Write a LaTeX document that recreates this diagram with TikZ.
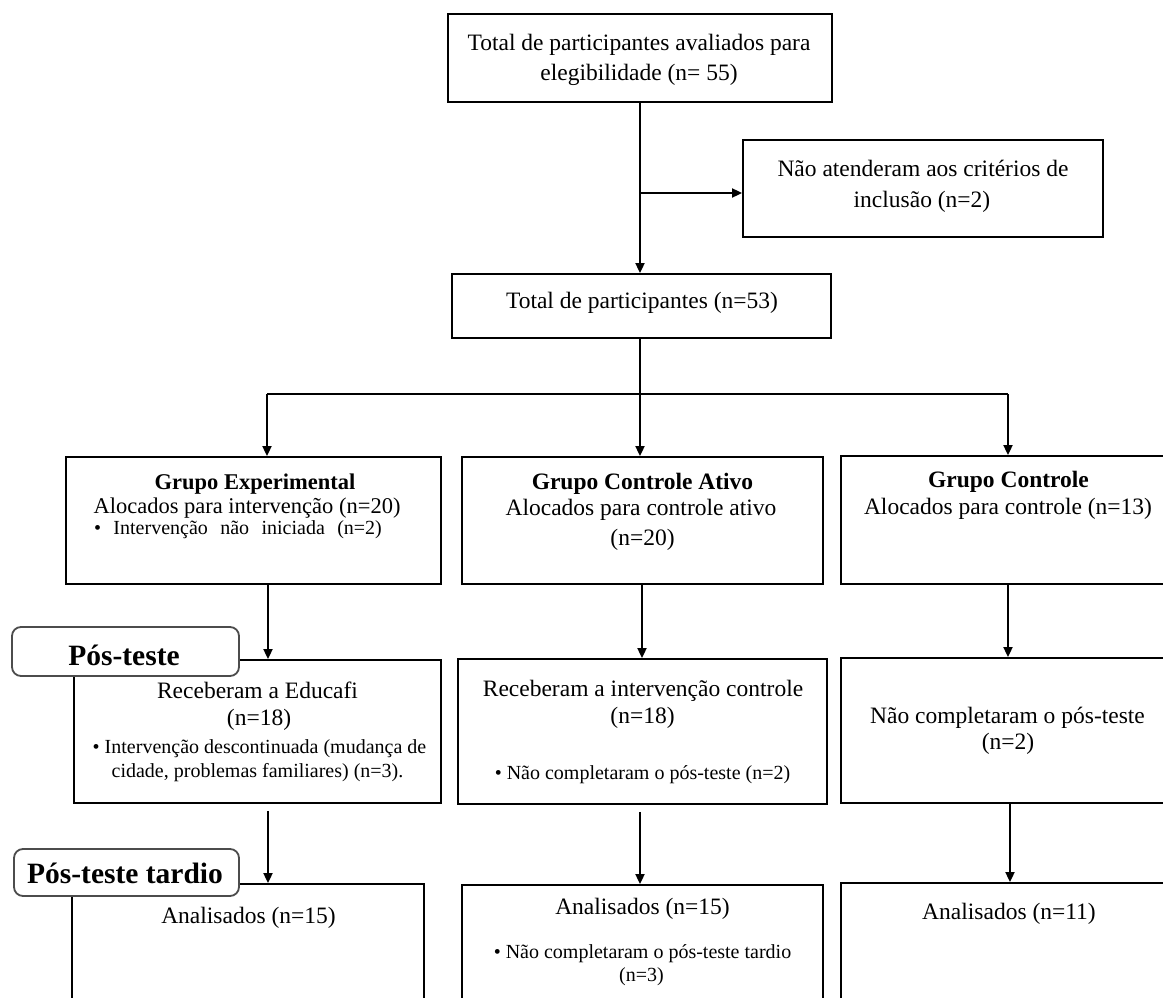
\documentclass[tikz,border=0pt]{standalone}
\usepackage{fontspec}
\setmainfont{Liberation Serif}
\usetikzlibrary{arrows.meta}
\begin{document}
\begin{tikzpicture}[x=1pt,y=-1pt,
  bx/.style={draw=black, line width=1.8pt, rectangle, inner sep=0pt, fill=white},
  lab/.style={draw=black!70, line width=1.8pt, rounded corners=9pt, rectangle, inner sep=0pt, fill=white},
  tx/.style={inner sep=0pt, text height=15.5pt, text depth=0pt, font=\fontsize{23.5}{28}\selectfont},
  tb/.style={inner sep=0pt, text height=15.5pt, text depth=0pt, font=\fontsize{23.5}{28}\selectfont\bfseries},
  txe/.style={inner sep=0pt, text height=15pt, text depth=0pt, font=\fontsize{22.5}{27}\selectfont},
  tbe/.style={inner sep=0pt, text height=15pt, text depth=0pt, font=\fontsize{22.5}{27}\selectfont\bfseries},
  ts/.style={inner sep=0pt, text height=13pt, text depth=0pt, font=\fontsize{20}{23}\selectfont},
  tl/.style={inner sep=0pt, text height=19.5pt, text depth=0pt, font=\fontsize{29.5}{34}\selectfont\bfseries},
  ln/.style={line width=1.8pt},
  arr/.style={ln, -{Triangle[length=10pt,width=9pt]}}]
\useasboundingbox (0,0) rectangle (1163,998);
\clip (0,0) rectangle (1163,998);
\fill[white] (0,0) rectangle (1163,998);

% boxes
\node[bx, minimum width=384pt, minimum height=88pt] (top) at (640,58) {};
\node[bx, minimum width=360pt, minimum height=97pt] (excl) at (923,188.5) {};
\node[bx, minimum width=379pt, minimum height=64pt] (tot) at (641.5,306) {};
\node[bx, minimum width=375pt, minimum height=127pt] (e3) at (253.5,520.5) {};
\node[bx, minimum width=361pt, minimum height=127pt] (a3) at (642.5,520.5) {};
\node[bx, minimum width=335pt, minimum height=128pt] (c3) at (1008.5,520) {};
\node[bx, minimum width=367pt, minimum height=143pt] (e4) at (257.5,731.5) {};
\node[bx, minimum width=369pt, minimum height=145pt] (a4) at (642.5,731.5) {};
\node[bx, minimum width=335pt, minimum height=145pt] (c4) at (1008.5,730.5) {};
\node[bx, minimum width=352pt, minimum height=126pt] (e5) at (248,947) {};
\node[bx, minimum width=361pt, minimum height=125pt] (a5) at (642.5,947.5) {};
\node[bx, minimum width=335pt, minimum height=127pt] (c5) at (1008.5,946.5) {};

% phase labels
\node[lab, minimum width=227pt, minimum height=49pt] (pt) at (125.5,651.5) {};
\node[lab, minimum width=225pt, minimum height=47pt] (ptt) at (126.5,872.5) {};
\node[tl] (ptx) at (124,656) {Pós-teste};
\node[tl] (pttx) at (125,873.5) {Pós-teste tardio};

% texts
\node[tx] (t1a) at (639,43) {Total de participantes avaliados para};
\node[tx] (t1b) at (639,73) {elegibilidade (n= 55)};
\node[tx] (x1a) at (923,169) {Não atenderam aos critérios de};
\node[tx] (x1b) at (922,200) {inclusão (n=2)};
\node[tx] (tt) at (642,300.5) {Total de participantes (n=53)};

\node[tbe] (e3a) at (255,482) {Grupo Experimental};
\node[txe] (e3b) at (247,506) {Alocados para intervenção (n=20)};
\node[ts] (e3c) at (238,528) {\spaceskip=0.62em • Intervenção não iniciada (n=2)};

\node[tb] (a3a) at (642.5,482) {Grupo Controle Ativo};
\node[tx] (a3b) at (641,508) {Alocados para controle ativo};
\node[tx] (a3c) at (642.5,538) {(n=20)};

\node[tb] (c3a) at (1008.5,480) {Grupo Controle};
\node[tx] (c3b) at (1008,507) {Alocados para controle (n=13)};

\node[tx] (e4a) at (257.5,690.5) {Receberam a Educafi};
\node[tx] (e4b) at (259,718) {(n=18)};
\node[ts] (e4c) at (259.5,747) {• Intervenção descontinuada (mudança de};
\node[ts] (e4d) at (257.5,771) {cidade, problemas familiares) (n=3).};

\node[tx] (a4a) at (643,689) {Receberam a intervenção controle};
\node[tx] (a4b) at (642.5,716) {(n=18)};
\node[ts] (a4c) at (642.5,773) {• Não completaram o pós-teste (n=2)};

\node[tx] (c4a) at (1007.5,715.5) {Não completaram o pós-teste};
\node[tx] (c4b) at (1008,741.5) {(n=2)};

\node[tx] (e5a) at (248.5,916) {Analisados (n=15)};
\node[tx] (a5a) at (642.5,906.5) {Analisados (n=15)};
\node[ts] (a5b) at (642.5,951.5) {• Não completaram o pós-teste tardio};
\node[ts] (a5c) at (641.5,975) {(n=3)};
\node[tx] (c5a) at (1009,911.5) {Analisados (n=11)};

% connector coordinates
\coordinate (br) at (640,193);
\coordinate (sp) at (640,394);
\coordinate (xe) at (267,0);
\coordinate (xe2) at (268,0);
\coordinate (xa) at (640,0);
\coordinate (xa2) at (642,0);
\coordinate (xc) at (1008,0);
\coordinate (xc2) at (1010,0);

% connectors
\draw[arr] (top.south) -- (top.south |- tot.north);
\draw[arr] (br) -- (br -| excl.west);
\draw[ln] (sp |- tot.south) -- (sp);
\draw[ln] (sp -| xe) -- (sp -| xc);
\draw[arr] (sp -| xe) -- (xe |- e3.north);
\draw[arr] (sp) -- (xa |- a3.north);
\draw[arr] (sp -| xc) -- (xc |- c3.north);

\draw[arr] (xe2 |- e3.south) -- (xe2 |- e4.north);
\draw[arr] (xa2 |- a3.south) -- (xa2 |- a4.north);
\draw[arr] (xc |- c3.south) -- (xc |- c4.north);

\draw[arr, shorten <=7pt] (xe2 |- e4.south) -- (xe2 |- e5.north);
\draw[arr, shorten <=7pt] (xa |- a4.south) -- (xa |- a5.north);
\draw[arr] (xc2 |- c4.south) -- (xc2 |- c5.north);
\end{tikzpicture}
\end{document}
